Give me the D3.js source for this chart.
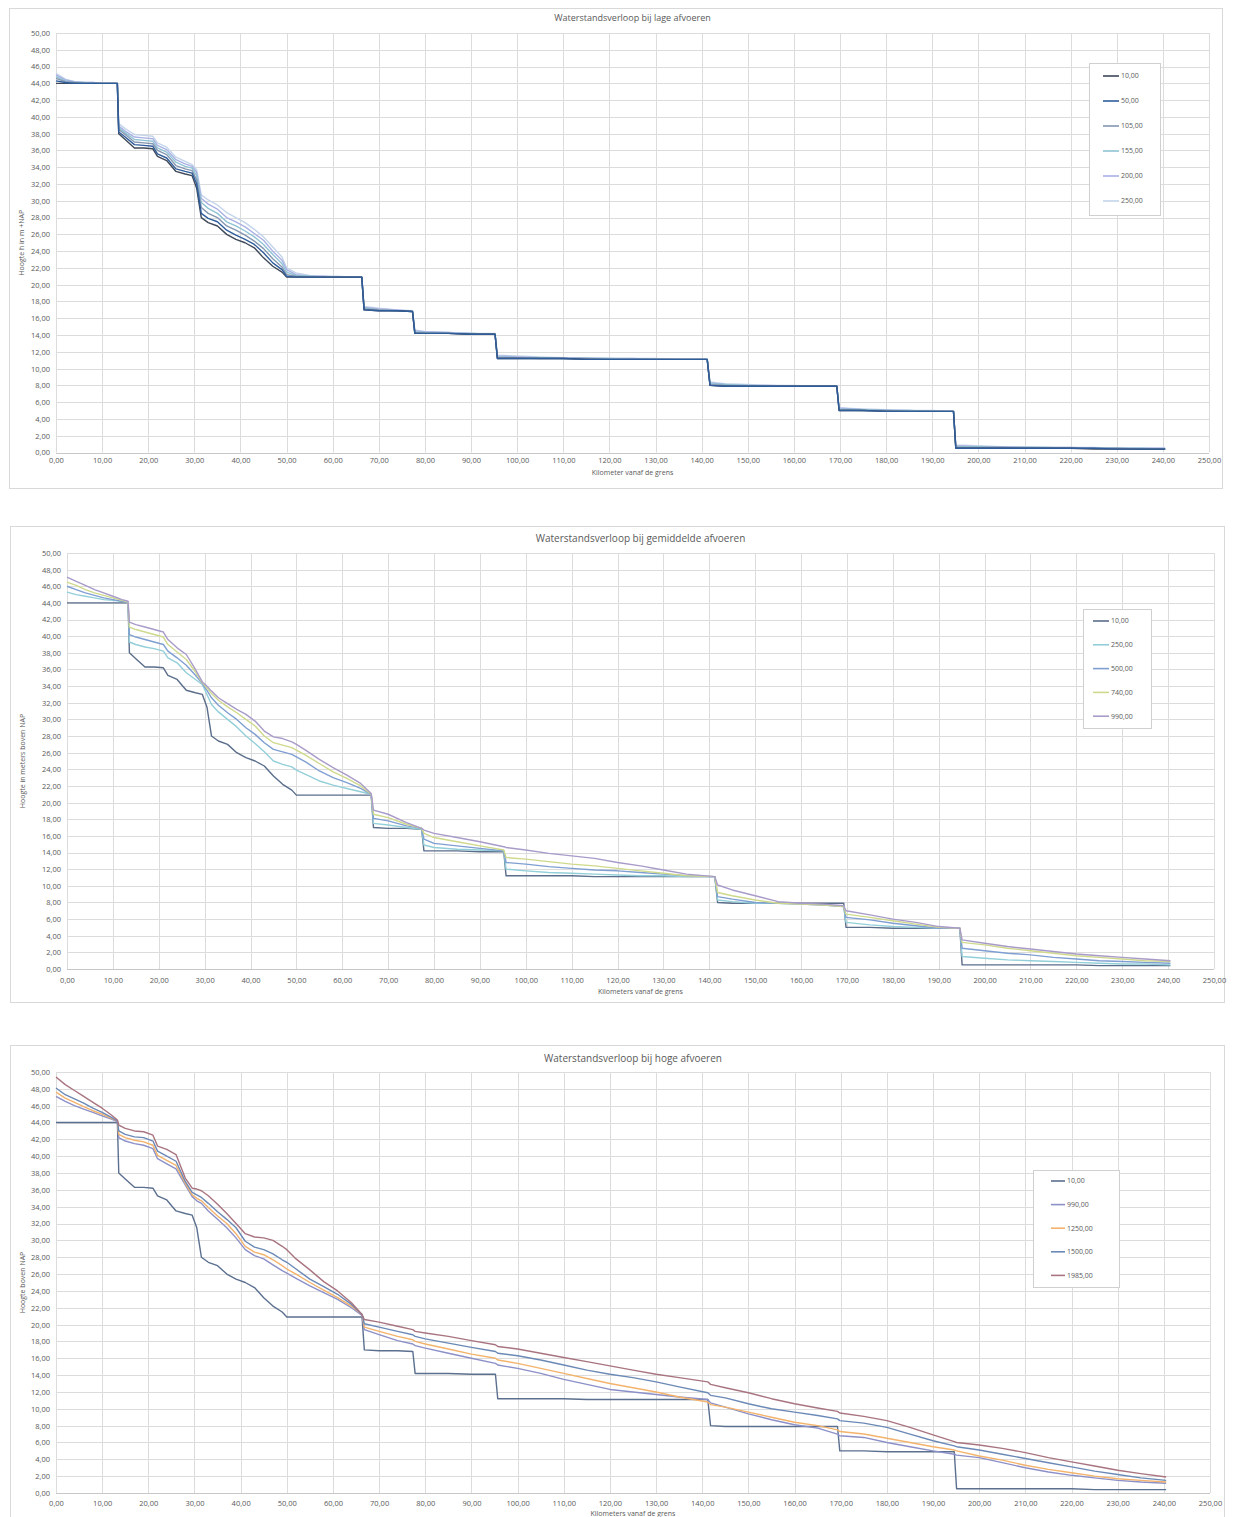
<!DOCTYPE html>
<html>
<head>
<meta charset="utf-8">
<script src="https://cdn.jsdelivr.net/npm/d3@7"></script>
<style>
  body { margin: 0; background: #fff; }
  svg { display: block; }
  text { font-family: "Open Sans", "Liberation Sans", sans-serif; fill: #595959; }
</style>
</head>
<body>
<svg id="chart" width="1234" height="1517"></svg>
<script>
// River kilometre stations shared by all profiles (weir drops use two close stations)
const km = [
  0, 2, 4, 6, 8, 10, 12, 13.3,
  13.6, 15, 17, 19, 21, 22, 24, 26, 28,
  29.5, 30.5, 31.5, 33, 35, 37, 39, 41, 43, 45, 47, 49, 50, 52, 55, 58, 61, 64, 66.3,
  66.8, 70, 74, 77.3, 77.8,
  80, 85, 90, 95.2, 95.7, 100, 105, 110, 115, 120, 125, 130, 135,
  141.2, 141.8, 145, 150, 155, 160, 165, 169.3, 169.8, 175, 180, 185, 190, 194.6, 195.1,
  200, 205, 210, 215, 220, 225, 230, 235, 240.5
];

// Water level (m +NAP) at 10 m3/s, drawn in all three panels
const h10 = [
  44.0, 44.0, 44.0, 44.0, 44.0, 44.0, 44.0, 44.0,
  38.0, 37.3, 36.3, 36.3, 36.2, 35.3, 34.8, 33.5, 33.2,
  33.0, 31.5, 28.0, 27.4, 27.0, 26.0, 25.4, 25.0, 24.4, 23.2, 22.2, 21.5, 20.9, 20.9, 20.9, 20.9, 20.9, 20.9, 20.9,
  17.0, 16.9, 16.9, 16.8, 14.2,
  14.2, 14.2, 14.1, 14.1, 11.2, 11.2, 11.2, 11.2, 11.1, 11.1, 11.1, 11.1, 11.1,
  11.1, 8.0, 7.9, 7.9, 7.9, 7.9, 7.9, 7.9, 5.0, 5.0, 4.9, 4.9, 4.9, 4.9, 0.5,
  0.5, 0.5, 0.5, 0.5, 0.5, 0.4, 0.4, 0.4, 0.4
];

// --- Low discharges ---
const lowFlows = [10, 50, 105, 155, 200, 250];
const low50 = [
  44.3, 44.1, 44.0, 44.0, 44.0, 44.0, 44.0, 44.0,
  38.2, 37.6, 36.7, 36.6, 36.5, 35.6, 35.1, 33.8, 33.5,
  33.3, 32.0, 28.5, 27.9, 27.5, 26.5, 25.9, 25.4, 24.8, 23.8, 22.6, 21.8, 21.0, 20.9, 20.9, 20.9, 20.9, 20.9, 20.9,
  17.0, 16.9, 16.9, 16.8, 14.2,
  14.2, 14.2, 14.1, 14.1, 11.2, 11.2, 11.2, 11.2, 11.1, 11.1, 11.1, 11.1, 11.1,
  11.1, 8.0, 7.9, 7.9, 7.9, 7.9, 7.9, 7.9, 5.0, 5.0, 4.9, 4.9, 4.9, 4.9, 0.5,
  0.5, 0.5, 0.5, 0.5, 0.5, 0.5, 0.4, 0.4, 0.4
];
const low105 = [
  44.6, 44.2, 44.1, 44.0, 44.0, 44.0, 44.0, 44.0,
  38.5, 37.9, 37.0, 36.9, 36.8, 36.0, 35.5, 34.2, 33.8,
  33.6, 32.5, 29.2, 28.5, 28.0, 27.0, 26.5, 25.9, 25.2, 24.3, 23.1, 22.1, 21.2, 21.0, 20.9, 20.9, 20.9, 20.9, 20.9,
  17.1, 17.0, 16.9, 16.8, 14.3,
  14.2, 14.2, 14.1, 14.1, 11.3, 11.3, 11.2, 11.2, 11.2, 11.1, 11.1, 11.1, 11.1,
  11.1, 8.1, 8.0, 7.9, 7.9, 7.9, 7.9, 7.9, 5.1, 5.0, 5.0, 4.9, 4.9, 4.9, 0.6,
  0.6, 0.6, 0.5, 0.5, 0.5, 0.5, 0.5, 0.4, 0.4
];
const low155 = [
  44.8, 44.3, 44.1, 44.1, 44.0, 44.0, 44.0, 44.0,
  38.7, 38.1, 37.3, 37.2, 37.1, 36.3, 35.8, 34.6, 34.1,
  33.9, 33.0, 29.8, 29.1, 28.5, 27.5, 27.0, 26.4, 25.7, 24.8, 23.6, 22.5, 21.5, 21.1, 21.0, 20.9, 20.9, 20.9, 20.9,
  17.2, 17.0, 16.9, 16.8, 14.4,
  14.3, 14.2, 14.2, 14.1, 11.4, 11.3, 11.3, 11.2, 11.2, 11.2, 11.1, 11.1, 11.1,
  11.1, 8.2, 8.1, 8.0, 7.9, 7.9, 7.9, 7.9, 5.2, 5.1, 5.0, 5.0, 4.9, 4.9, 0.7,
  0.7, 0.6, 0.6, 0.6, 0.5, 0.5, 0.5, 0.5, 0.4
];
const low200 = [
  45.0, 44.4, 44.2, 44.1, 44.1, 44.0, 44.0, 44.0,
  38.9, 38.3, 37.6, 37.5, 37.4, 36.6, 36.1, 34.9, 34.4,
  34.1, 33.4, 30.3, 29.6, 29.0, 28.0, 27.5, 26.9, 26.1, 25.3, 24.0, 22.9, 21.8, 21.2, 21.0, 21.0, 20.9, 20.9, 20.9,
  17.3, 17.1, 17.0, 16.8, 14.5,
  14.4, 14.3, 14.2, 14.1, 11.5, 11.4, 11.3, 11.3, 11.2, 11.2, 11.2, 11.1, 11.1,
  11.1, 8.3, 8.1, 8.0, 8.0, 7.9, 7.9, 7.9, 5.3, 5.1, 5.0, 5.0, 4.9, 4.9, 0.8,
  0.7, 0.7, 0.6, 0.6, 0.6, 0.5, 0.5, 0.5, 0.5
];
const low250 = [
  45.2, 44.5, 44.2, 44.1, 44.1, 44.0, 44.0, 44.0,
  39.2, 38.6, 37.9, 37.8, 37.7, 36.9, 36.4, 35.2, 34.7,
  34.3, 33.7, 30.7, 30.1, 29.5, 28.6, 28.0, 27.4, 26.6, 25.7, 24.5, 23.3, 22.0, 21.4, 21.1, 21.0, 21.0, 20.9, 20.9,
  17.4, 17.2, 17.0, 16.9, 14.6,
  14.4, 14.3, 14.2, 14.2, 11.6, 11.5, 11.4, 11.3, 11.3, 11.2, 11.2, 11.2, 11.1,
  11.1, 8.4, 8.2, 8.1, 8.0, 8.0, 7.9, 7.9, 5.3, 5.2, 5.1, 5.0, 5.0, 4.9, 0.9,
  0.8, 0.7, 0.7, 0.6, 0.6, 0.6, 0.5, 0.5, 0.5
];

// --- Mean discharges ---
const meanFlows = [10, 250, 500, 740, 990];
const mean250 = [
  45.3, 45.0, 44.8, 44.6, 44.4, 44.3, 44.2, 44.1,
  39.3, 39.0, 38.7, 38.5, 38.2, 37.4, 36.8, 35.6, 34.8,
  34.2, 33.0, 31.8, 30.9, 30.0, 29.1, 28.0, 27.1, 26.1, 25.0, 24.6, 24.3, 23.9, 23.4, 22.6, 22.1, 21.7, 21.3, 21.0,
  17.5, 17.3, 17.0, 16.8, 14.9,
  14.6, 14.4, 14.3, 14.2, 12.0, 11.8, 11.6, 11.5, 11.4, 11.3, 11.2, 11.2, 11.1,
  11.1, 8.3, 8.1, 7.9, 7.9, 7.8, 7.7, 7.5, 5.6, 5.3, 5.1, 5.0, 4.9, 4.9, 1.5,
  1.3, 1.1, 1.0, 0.9, 0.8, 0.7, 0.6, 0.6, 0.5
];
const mean500 = [
  46.0, 45.6, 45.2, 44.9, 44.6, 44.4, 44.2, 44.1,
  40.2, 39.9, 39.6, 39.3, 39.0, 38.2, 37.4, 36.5, 35.3,
  34.3, 33.5, 32.6, 31.7, 30.8, 30.0, 29.0, 28.2, 27.2, 26.4, 26.1, 25.8, 25.5, 24.9, 23.8, 23.0, 22.4, 21.7, 21.0,
  18.1, 17.8, 17.2, 16.9, 15.6,
  15.1, 14.8, 14.5, 14.2, 12.8, 12.6, 12.3, 12.1, 11.9, 11.8, 11.6, 11.4, 11.2,
  11.1, 8.7, 8.4, 8.0, 7.9, 7.8, 7.7, 7.5, 6.2, 5.9, 5.5, 5.2, 4.9, 4.9, 2.5,
  2.2, 1.9, 1.7, 1.4, 1.2, 1.0, 0.9, 0.8, 0.7
];
const mean740 = [
  46.5, 46.1, 45.6, 45.2, 44.9, 44.6, 44.3, 44.1,
  41.1, 40.8, 40.5, 40.2, 39.9, 39.0, 38.1, 37.2, 35.7,
  34.4, 33.8, 33.1, 32.3, 31.5, 30.8, 30.0, 29.2, 28.0, 27.2, 26.9, 26.6, 26.3, 25.7, 24.7, 23.7, 22.9, 22.0, 21.0,
  18.6, 18.2, 17.4, 16.9, 16.3,
  15.8, 15.3, 14.8, 14.3, 13.4, 13.2, 12.9, 12.6, 12.4, 12.1, 11.8, 11.5, 11.2,
  11.1, 9.2, 8.8, 8.3, 7.9, 7.8, 7.7, 7.5, 6.6, 6.2, 5.8, 5.4, 5.0, 4.9, 3.2,
  2.9, 2.5, 2.2, 1.9, 1.6, 1.4, 1.2, 1.0, 0.9
];
const mean990 = [
  47.1, 46.6, 46.1, 45.6, 45.2, 44.8, 44.4, 44.2,
  41.7, 41.4, 41.1, 40.8, 40.5, 39.6, 38.6, 37.8, 36.0,
  34.5, 34.0, 33.4, 32.6, 31.9, 31.2, 30.6, 29.8, 28.6, 27.9, 27.7, 27.3, 27.0, 26.3, 25.2, 24.2, 23.3, 22.3, 21.1,
  19.1, 18.6, 17.6, 16.9, 16.7,
  16.3, 15.8, 15.3, 14.7, 14.6, 14.3, 13.9, 13.6, 13.3, 12.8, 12.4, 11.9, 11.4,
  11.1, 10.1, 9.5, 8.8, 8.1, 7.9, 7.8, 7.6, 7.0, 6.5, 6.0, 5.6, 5.1, 4.9, 3.5,
  3.1, 2.7, 2.4, 2.1, 1.8, 1.6, 1.4, 1.2, 1.0
];

// --- High discharges ---
const highFlows = [10, 990, 1250, 1500, 1985];
const high990 = [
  47.1, 46.5, 46.0, 45.6, 45.2, 44.8, 44.4, 44.1,
  42.2, 41.8, 41.5, 41.3, 40.9, 39.7, 39.1, 38.5, 36.6,
  35.2, 34.7, 34.4, 33.5, 32.5, 31.5, 30.3, 28.9, 28.2, 27.8, 27.1, 26.4, 26.1, 25.5, 24.6, 23.8, 23.0, 22.0, 21.1,
  19.4, 18.8, 18.1, 17.7, 17.5,
  17.2, 16.6, 16.0, 15.4, 15.2, 14.8, 14.2, 13.5, 12.9, 12.3, 12.0, 11.7, 11.4,
  11.1, 10.7, 10.2, 9.4, 8.7, 8.1, 7.7, 7.0, 6.8, 6.6, 6.0, 5.5, 5.0, 4.6, 4.5,
  4.2, 3.6, 3.0, 2.5, 2.1, 1.8, 1.5, 1.3, 1.15
];
const high1250 = [
  47.6, 46.9, 46.4, 45.9, 45.4, 45.0, 44.5, 44.2,
  42.6, 42.2, 41.9, 41.7, 41.3, 40.1, 39.5, 38.9, 36.8,
  35.4, 35.0, 34.7, 33.9, 32.9, 32.0, 30.8, 29.3, 28.6, 28.3, 27.7, 27.0, 26.6, 26.0, 25.0, 24.1, 23.2, 22.2, 21.2,
  19.7, 19.2, 18.6, 18.2, 18.0,
  17.7, 17.1, 16.5, 16.0, 15.8, 15.4, 14.8, 14.2, 13.6, 13.0, 12.5, 12.0, 11.4,
  10.8, 10.5, 10.2, 9.6, 9.0, 8.4, 8.0, 7.5, 7.3, 7.0, 6.5, 6.0, 5.5, 5.1, 5.0,
  4.4, 3.9, 3.3, 2.8, 2.4, 2.0, 1.7, 1.5, 1.3
];
const high1500 = [
  48.1, 47.3, 46.8, 46.3, 45.7, 45.2, 44.6, 44.2,
  43.0, 42.6, 42.3, 42.2, 41.8, 40.6, 40.0, 39.4, 37.0,
  35.7, 35.4, 35.1, 34.4, 33.4, 32.5, 31.5, 29.9, 29.2, 28.9, 28.4, 27.7, 27.4, 26.6, 25.4, 24.5, 23.6, 22.4, 21.2,
  20.1, 19.7, 19.2, 18.8, 18.6,
  18.3, 17.8, 17.3, 16.8, 16.6, 16.3, 15.8, 15.2, 14.6, 14.1, 13.7, 13.2, 12.6,
  11.9, 11.6, 11.3, 10.6, 10.0, 9.6, 9.2, 8.8, 8.6, 8.3, 7.8, 7.0, 6.2, 5.6, 5.5,
  5.1, 4.6, 4.1, 3.6, 3.1, 2.6, 2.2, 1.8, 1.5
];
const high1985 = [
  49.4, 48.5, 47.8, 47.1, 46.4, 45.7, 44.9, 44.3,
  43.7, 43.3, 43.0, 42.9, 42.5, 41.2, 40.8, 40.2, 37.4,
  36.2, 36.1, 35.9, 35.3, 34.3, 33.2, 32.0, 30.8, 30.4, 30.3, 30.0, 29.3, 28.9, 27.8, 26.5, 25.1, 24.0, 22.6, 21.2,
  20.6, 20.3, 19.8, 19.4, 19.2,
  19.0, 18.6, 18.1, 17.6, 17.4, 17.1, 16.6, 16.1, 15.6, 15.1, 14.6, 14.1, 13.7,
  13.2, 12.9, 12.5, 11.9, 11.2, 10.6, 10.1, 9.7, 9.5, 9.1, 8.6, 7.8, 6.9, 6.1, 6.0,
  5.7, 5.3, 4.8, 4.2, 3.7, 3.2, 2.7, 2.3, 1.9
];

// Axis ticks
const xTicks = d3.range(0, 251, 10);
const yTicks = d3.range(0, 51, 2);

// Dutch number format: 10,00
const nl = d3.formatLocale({ decimal: ",", thousands: ".", grouping: [3], currency: ["€ ", ""] });
const fmt = nl.format(".2f");

// Panel layout and styling; drawOrder lists series indices back-to-front
const panels = [
  {
    title: "Waterstandsverloop bij lage afvoeren",
    xTitle: "Kilometer vanaf de grens",
    yTitle: "Hoogte h in m +NAP",
    frame: { x: 9, y: 8, w: 1213, h: 480 },
    plot: { left: 56, right: 1209, top: 33, bottom: 452.5 },
    titleY: 21, tickY: 463, xTitleY: 475, titleSize: 9,
    flows: lowFlows,
    values: [h10, low50, low105, low155, low200, low250],
    colors: ["#3f4858", "#2f5d9c", "#8496b0", "#8fc3d4", "#a9b1e4", "#c3d4ea"],
    drawOrder: [5, 4, 3, 2, 0, 1],
    legend: { x: 1089, y: 63, w: 71, h: 152, row0: 13, rowStep: 25, line: [14, 30] }
  },
  {
    title: "Waterstandsverloop bij gemiddelde afvoeren",
    xTitle: "Kilometers vanaf de grens",
    yTitle: "Hoogte in meters boven NAP",
    frame: { x: 10, y: 526, w: 1214, h: 476 },
    plot: { left: 67, right: 1214, top: 553, bottom: 969 },
    titleY: 542, tickY: 983, xTitleY: 994, titleSize: 10,
    flows: meanFlows,
    values: [h10, mean250, mean500, mean740, mean990],
    colors: ["#5a6d8a", "#93cfd9", "#7f9fd2", "#cfd98c", "#a99bc9"],
    drawOrder: [0, 1, 2, 3, 4],
    legend: { x: 1083, y: 609, w: 68, h: 119, row0: 12, rowStep: 23.8, line: [10, 26] }
  },
  {
    title: "Waterstandsverloop bij hoge afvoeren",
    xTitle: "Kilometers vanaf de grens",
    yTitle: "Hoogte boven NAP",
    frame: { x: 10, y: 1045, w: 1214, h: 490 },
    plot: { left: 56, right: 1210, top: 1072, bottom: 1493 },
    titleY: 1062, tickY: 1506, xTitleY: 1516, titleSize: 10,
    flows: highFlows,
    values: [h10, high990, high1250, high1500, high1985],
    colors: ["#5b6f8f", "#8c90c8", "#f3b36c", "#6b89b6", "#a87480"],
    drawOrder: [0, 1, 2, 3, 4],
    legend: { x: 1033, y: 1170, w: 86, h: 117, row0: 11, rowStep: 23.6, line: [18, 32] }
  }
];

const svg = d3.select("#chart");

panels.forEach(p => {
  const g = svg.append("g");

  // chart frame
  g.append("rect")
    .attr("x", p.frame.x + 0.5).attr("y", p.frame.y + 0.5)
    .attr("width", p.frame.w).attr("height", p.frame.h)
    .attr("fill", "#fff").attr("stroke", "#d9d9d9").attr("stroke-width", 1);

  const x = d3.scaleLinear().domain([0, 250]).range([p.plot.left, p.plot.right]);
  const y = d3.scaleLinear().domain([0, 50]).range([p.plot.bottom, p.plot.top]);

  // gridlines
  g.append("g")
    .selectAll("line").data(xTicks).join("line")
    .attr("x1", d => Math.round(x(d)) + 0.5).attr("x2", d => Math.round(x(d)) + 0.5)
    .attr("y1", p.plot.top).attr("y2", p.plot.bottom)
    .attr("stroke", "#dcdcdc").attr("stroke-width", 1);
  g.append("g")
    .selectAll("line").data(yTicks).join("line")
    .attr("x1", p.plot.left).attr("x2", p.plot.right)
    .attr("y1", d => Math.round(y(d)) + 0.5).attr("y2", d => Math.round(y(d)) + 0.5)
    .attr("stroke", "#dcdcdc").attr("stroke-width", 1);

  // baseline
  g.append("line")
    .attr("x1", p.plot.left).attr("x2", p.plot.right)
    .attr("y1", Math.round(y(0)) + 0.5).attr("y2", Math.round(y(0)) + 0.5)
    .attr("stroke", "#c8c8c8");

  // axes with tick labels
  const xAxis = d3.axisBottom(x).tickValues(xTicks).tickFormat(fmt).tickSize(0).tickPadding(0);
  const xg = g.append("g").attr("transform", `translate(0,${p.tickY})`).call(xAxis);
  xg.select(".domain").remove();
  xg.selectAll("text").attr("fill", "#595959").attr("font-size", 7.5).attr("dy", 0).attr("y", 0);

  const yAxis = d3.axisLeft(y).tickValues(yTicks).tickFormat(fmt).tickSize(0).tickPadding(0);
  const yg = g.append("g").attr("transform", `translate(${p.plot.left - 6},0)`).call(yAxis);
  yg.select(".domain").remove();
  yg.selectAll("text").attr("fill", "#595959").attr("font-size", 7.5);

  // titles
  g.append("text")
    .attr("x", (p.plot.left + p.plot.right) / 2).attr("y", p.titleY)
    .attr("text-anchor", "middle").attr("font-size", p.titleSize)
    .text(p.title);
  g.append("text")
    .attr("x", (p.plot.left + p.plot.right) / 2).attr("y", p.xTitleY)
    .attr("text-anchor", "middle").attr("font-size", 7)
    .text(p.xTitle);
  g.append("text")
    .attr("transform", `translate(${p.frame.x + 15},${(p.plot.top + p.plot.bottom) / 2}) rotate(-90)`)
    .attr("text-anchor", "middle").attr("font-size", 7)
    .text(p.yTitle);

  // discharge profiles
  const line = d3.line().x(d => x(d[0])).y(d => y(d[1]));
  const series = p.flows.map((q, i) => ({ q, color: p.colors[i], pts: km.map((k, j) => [k, p.values[i][j]]) }));
  g.append("g")
    .selectAll("path").data(p.drawOrder.map(i => series[i])).join("path")
    .attr("d", d => line(d.pts))
    .attr("fill", "none").attr("stroke", d => d.color)
    .attr("stroke-width", 1.4).attr("stroke-linejoin", "round");

  // legend
  const L = p.legend;
  const lg = g.append("g").attr("transform", `translate(${L.x},${L.y})`);
  lg.append("rect").attr("x", 0.5).attr("y", 0.5).attr("width", L.w).attr("height", L.h)
    .attr("fill", "#fff").attr("stroke", "#d0d0d0");
  const rows = lg.selectAll("g").data(series).join("g")
    .attr("transform", (d, i) => `translate(0,${L.row0 + i * L.rowStep})`);
  rows.append("line").attr("x1", L.line[0]).attr("x2", L.line[1])
    .attr("stroke", d => d.color).attr("stroke-width", 1.6);
  rows.append("text").attr("x", L.line[1] + 2).attr("dy", "0.35em")
    .attr("font-size", 7).text(d => fmt(d.q));
});
</script>
</body>
</html>
